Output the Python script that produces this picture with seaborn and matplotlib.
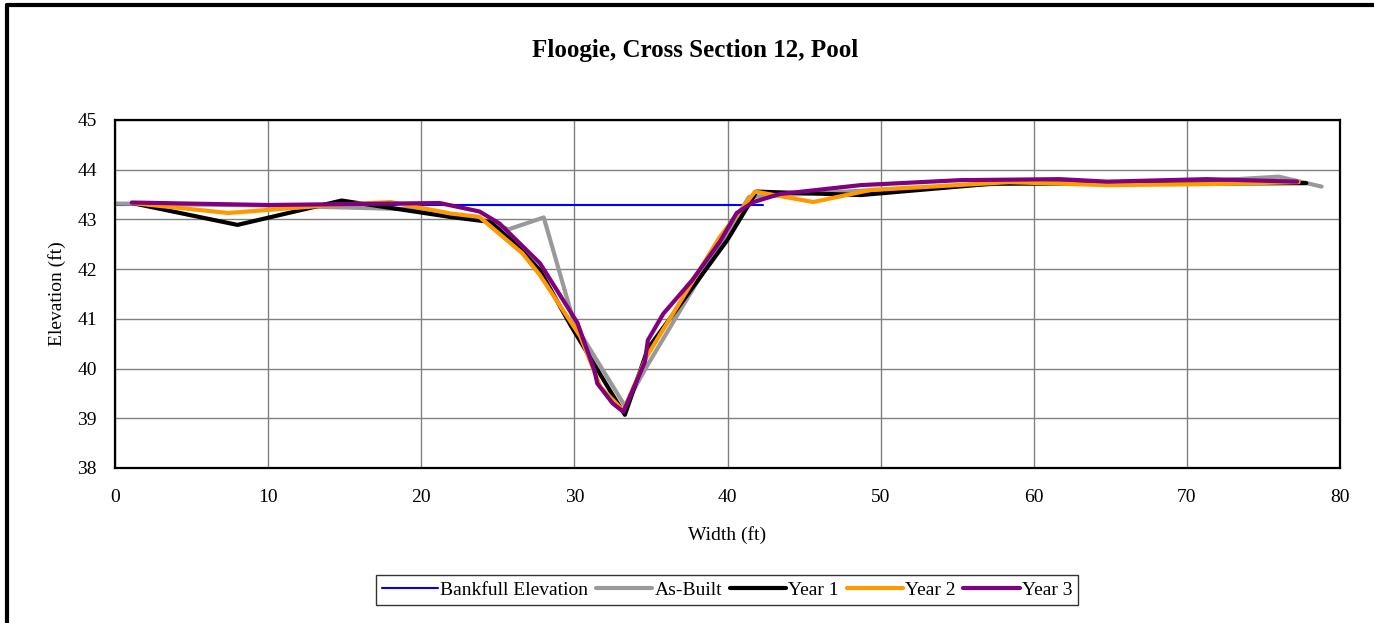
import matplotlib
matplotlib.use("Agg")
import matplotlib.pyplot as plt
import matplotlib.lines as mlines
import seaborn as sns


# Bankfull elevation line
bankfull_x = [0.0, 42.3]
bankfull_y = [43.30, 43.30]

# As-built survey
asbuilt_x = [0.0, 10.0, 20.0, 24.0, 25.7, 28.0, 30.0, 33.3, 34.7, 37.7, 41.4, 50.0, 60.0, 70.0, 76.0, 78.8]
asbuilt_y = [43.32, 43.28, 43.20, 43.00, 42.80, 43.04, 40.90, 39.25, 40.03, 41.58, 43.45, 43.60, 43.75, 43.75, 43.86, 43.66]

# Year 1
year1_x = [1.1, 8.0, 14.8, 21.9, 24.5, 26.0, 27.75, 29.7, 32.3, 33.3, 34.8, 40.0, 41.9, 48.7, 57.3, 69.1, 77.8]
year1_y = [43.33, 42.89, 43.38, 43.05, 42.95, 42.55, 41.98, 40.90, 39.57, 39.07, 40.40, 42.59, 43.56, 43.49, 43.72, 43.72, 43.73]

# Year 2
year2_x = [1.1, 7.4, 14.2, 18.0, 21.9, 23.8, 26.6, 27.75, 30.4, 31.7, 33.2, 34.7, 39.5, 41.8, 45.6, 49.3, 58.4, 64.8, 71.3, 77.3]
year2_y = [43.33, 43.13, 43.29, 43.35, 43.12, 43.05, 42.32, 41.88, 40.64, 39.63, 39.15, 40.23, 42.65, 43.56, 43.35, 43.59, 43.75, 43.69, 43.71, 43.75]

# Year 3
year3_x = [1.1, 10.0, 21.2, 23.8, 25.1, 27.75, 30.2, 31.3, 31.5, 32.5, 33.2, 34.6, 34.8, 35.8, 37.7, 39.5,
           40.6, 41.7, 43.4, 48.7, 55.2, 61.7, 64.8, 71.3, 77.2]
year3_y = [43.34, 43.29, 43.33, 43.16, 42.92, 42.12, 40.92, 39.97, 39.70, 39.30, 39.13, 40.13, 40.57, 41.10, 41.78, 42.55,
           43.13, 43.35, 43.51, 43.69, 43.79, 43.81, 43.76, 43.81, 43.76]

series = [
    ("Bankfull Elevation", bankfull_x, bankfull_y, "#0000FF", 1.5),
    ("As-Built", asbuilt_x, asbuilt_y, "#999999", 3.0),
    ("Year 1", year1_x, year1_y, "#000000", 3.0),
    ("Year 2", year2_x, year2_y, "#FF9900", 3.0),
    ("Year 3", year3_x, year3_y, "#800080", 3.0),
]

sns.set_theme(style="white")
plt.rcParams["font.family"] = ["Liberation Serif", "DejaVu Serif"]
plt.rcParams["font.size"] = 14
plt.rcParams["text.color"] = "black"

fig = plt.figure(figsize=(13.74, 6.23), dpi=100)
ax = fig.add_axes([115 / 1374, 1 - 468 / 623, (1340 - 115) / 1374, (468 - 120) / 623])

for name, xs, ys, color, lw in series:
    sns.lineplot(x=xs, y=ys, ax=ax, color=color, linewidth=lw, sort=False,
                 estimator=None, label=name, legend=False)

ax.set_xlim(0, 80)
ax.set_ylim(38, 45)
ax.set_xticks(range(0, 81, 10))
ax.set_yticks(range(38, 46))
ax.grid(True, color="#808080", linewidth=1.0)
for spine in ax.spines.values():
    spine.set_color("black")
    spine.set_linewidth(1.6)
ax.tick_params(axis="both", direction="out", length=5, width=1, color="black",
               labelsize=14, labelcolor="black", pad=8)
ax.tick_params(axis="x", pad=10)
ax.set_xlabel("")
ax.set_ylabel("")

fig.text(695 / 1374, 1 - 50 / 623, "Floogie, Cross Section 12, Pool", ha="center", va="center",
         fontsize=18, fontweight="bold", color="black")
fig.text(727 / 1374, 1 - 535 / 623, "Width (ft)", ha="center", va="center", fontsize=14, color="black")
fig.text(57 / 1374, 1 - 294 / 623, "Elevation (ft)", ha="center", va="center", rotation=90,
         fontsize=14, color="black")

handles = [mlines.Line2D([], [], color=c, linewidth=lw) for _, _, _, c, lw in series]
labels = [s[0] for s in series]
leg = fig.legend(handles, labels, loc="center", bbox_to_anchor=(727 / 1374, 1 - 590 / 623), ncol=5,
                 frameon=True, fancybox=False, edgecolor="black", fontsize=14, handlelength=2.9,
                 handletextpad=0.1, columnspacing=0.4, borderpad=0.3, borderaxespad=0)
leg.get_frame().set_linewidth(1.0)
for t in leg.get_texts():
    t.set_color("black")

# outer chart border (top and left visible)
x0 = 7 / 1374
y1 = 1 - 5 / 623
fig.add_artist(mlines.Line2D([x0, x0], [-0.1, y1], color="black", linewidth=3, transform=fig.transFigure))
fig.add_artist(mlines.Line2D([x0, 1.1], [y1, y1], color="black", linewidth=3, transform=fig.transFigure))

fig.savefig("out.png", dpi=100, facecolor="white")
